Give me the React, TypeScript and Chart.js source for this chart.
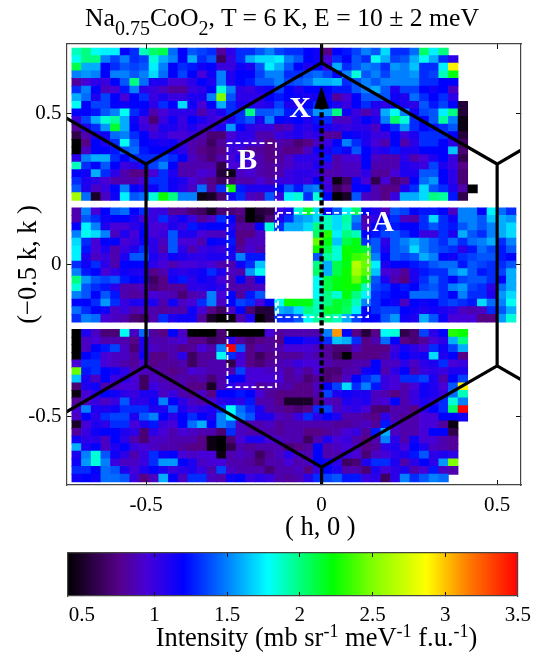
import React, { useEffect, useRef } from "react";
import { Chart, registerables } from "chart.js";

Chart.register(...registerables);

const hGrid = [-0.6975,-0.67,-0.6425,-0.615,-0.5875,-0.56,-0.5325,-0.505,-0.4775,-0.45,-0.4225,-0.395,-0.3675,-0.34,-0.3125,-0.285,-0.2575,-0.23,-0.2025,-0.175,-0.1475,-0.12,-0.0925,-0.065,-0.0375,-0.01,0.0175,0.045,0.0725,0.1,0.1275,0.155,0.1825,0.21,0.2375,0.265,0.2925,0.32,0.3475,0.375,0.4025,0.43,0.4575,0.485,0.5125,0.54];
const kGrid = [0.7028,0.6777,0.6526,0.6275,0.6024,0.5773,0.5522,0.5271,0.502,0.4769,0.4518,0.4267,0.4016,0.3765,0.3514,0.3263,0.3012,0.2761,0.251,0.2259,0.2008,0.1757,0.1506,0.1255,0.1004,0.0753,0.0502,0.0251,0,-0.0251,-0.0502,-0.0753,-0.1004,-0.1255,-0.1506,-0.1757,-0.2008,-0.2259,-0.251,-0.2761,-0.3012,-0.3263,-0.3514,-0.3765,-0.4016,-0.4267,-0.4518,-0.4769,-0.502,-0.5271,-0.5522,-0.5773,-0.6024,-0.6275,-0.6526,-0.6777,-0.7028];
const n = null;

const upperBand = [
[1.9,2.0,1.8,1.75,1.75,1.2,1.3,1.9,2.05,2.1,1.45,1.2,1.4,1.35,1.3,.8,1.05,1.3,1.3,1.4,1.5,1.35,1.3,1.3,1.2,1.15,.75,1.2,1.25,1.35,1.5,1.4,1.7,1.3,1.3,1.45,2.05,1.75,2.0],
[1.8,2.0,2.0,1.5,1.35,1.5,1.3,1.35,1.85,1.6,1.5,1.2,1.6,1.3,1.4,.65,1.0,1.3,1.6,1.7,1.7,1.75,1.5,1.4,1.2,1.15,.95,1.3,1.2,1.4,1.3,1.8,1.6,1.35,1.4,1.6,1.8,1.6,1.3,1.05],
[2.1,1.6,1.6,1.2,1.3,1.4,1.35,1.4,1.75,1.5,1.2,1.3,1.25,1.15,1.2,1.0,1.0,1.15,1.1,1.4,1.75,1.6,1.4,1.2,1.1,1.2,1.0,1.6,1.3,1.4,1.5,1.45,1.3,1.55,1.5,1.65,1.3,1.3,1.75,2.9],
[1.5,1.55,1.5,1.2,1.5,1.5,1.4,1.5,1.7,1.45,1.2,1.35,1.2,.95,1.15,1.5,1.1,1.2,1.2,1.35,1.5,1.5,1.3,1.3,1.4,1.45,1.35,1.2,1.5,1.85,1.4,1.5,1.35,1.5,1.5,1.55,1.3,1.35,1.9,2.2],
[.8,.95,1.05,1.0,1.2,1.4,2.0,1.45,1.1,1.1,.95,.95,1.05,1.2,1.1,1.5,1.1,1.2,1.25,1.4,1.4,1.5,1.35,1.4,1.45,1.6,1.6,1.65,1.3,1.4,1.5,1.4,1.5,1.5,1.5,1.5,1.3,1.3,1.2,1.2],
[1.3,1.5,1.2,.9,.95,1.25,1.5,1.05,1.0,.9,.8,.8,1.0,1.05,1.2,1.85,1.5,1.05,1.0,1.1,1.15,1.35,1.2,1.1,1.2,1.2,1.2,1.25,1.25,1.4,1.5,1.6,1.4,1.1,1.35,1.35,1.2,1.15,1.2,.9],
[1.6,1.45,1.1,1.35,1.2,.95,1.2,1.3,1.0,1.1,1.0,1.0,1.1,1.1,1.5,2.5,1.4,1.05,1.05,1.05,1.2,1.25,1.2,1.15,1.1,1.15,1.15,.8,.95,1.2,1.4,1.4,1.4,1.15,1.1,1.45,1.3,1.2,1.3,1.05],
[1.8,1.2,1.35,1.35,1.2,1.15,1.2,1.2,1.05,1.3,1.2,1.7,1.15,.95,1.2,1.6,1.3,1.1,1.1,1.05,1.1,1.35,1.1,1.05,1.2,1.3,1.2,1.1,1.0,1.2,1.3,1.1,1.05,1.2,1.1,1.05,1.4,1.25,1.35,1.2,.55],
[1.2,1.2,1.25,1.4,1.5,1.8,1.3,1.15,.85,.95,1.05,1.05,1.05,.85,1.0,1.1,1.3,1.3,2.0,1.4,1.4,1.45,1.25,1.25,1.3,1.55,1.55,2.0,1.15,1.0,.85,1.0,1.6,1.8,1.5,1.15,1.35,1.4,1.75,2.0,.55],
[1.0,1.35,1.6,1.85,1.95,1.6,1.15,.95,.7,1.0,1.15,1.0,1.2,1.1,1.0,.95,1.1,1.3,1.4,1.1,1.5,1.2,1.15,1.2,1.1,1.25,1.3,.9,.9,1.05,1.2,1.1,1.5,2.05,1.85,1.3,1.2,1.4,1.95,1.5,.45],
[.8,1.1,1.3,1.55,2.15,1.6,1.2,1.0,.9,1.1,1.1,1.0,1.1,1.0,1.0,1.1,1.55,1.2,1.05,1.0,1.0,.85,.9,1.1,1.05,1.15,1.1,1.05,1.0,1.05,1.05,.9,1.2,1.3,1.55,1.3,1.2,1.25,1.3,1.4,.45],
[.6,.85,1.1,1.15,1.45,1.5,1.3,1.2,1.0,1.05,.95,.95,1.0,.85,.7,.7,.95,1.05,1.05,.85,.85,1.0,1.05,1.1,1.0,1.05,.8,.8,1.2,1.15,1.1,1.0,1.0,1.2,1.0,1.1,1.3,1.3,1.3,1.2,.55],
[.4,.75,1.2,1.1,1.3,1.8,1.4,1.2,1.15,1.1,1.15,1.0,.85,.8,.65,.8,1.0,1.05,1.0,.9,.75,.85,.8,.7,.75,.9,1.0,1.2,1.5,1.3,1.1,.95,.85,1.2,.85,1.05,1.3,1.3,1.2,1.05,.65],
[.4,.9,1.2,1.2,1.25,1.4,1.45,1.25,1.2,1.2,1.15,1.05,.85,.75,.7,.75,1.0,.95,.8,.8,.75,.8,.75,.75,.9,1.15,1.1,1.25,1.15,1.4,1.2,1.05,1.1,1.25,1.1,1.1,1.2,1.2,1.2,1.65,.7],
[1.05,1.5,1.6,1.6,1.3,1.2,1.3,1.3,1.3,1.35,1.3,1.2,.9,.8,.7,.85,.95,1.1,1.0,.85,.75,.8,.9,1.05,1.05,1.05,1.25,.85,.95,.95,1.2,.9,.85,.85,1.05,.85,.95,1.1,1.2,1.0,.6],
[1.9,1.3,1.2,1.4,1.2,1.0,1.05,1.25,1.35,1.5,1.2,.85,.85,.85,.85,.6,.95,.95,.95,.85,.8,.85,.9,1.0,1.0,1.1,1.0,.85,.9,.9,1.2,.85,.85,.85,1.1,1.05,1.0,1.35,1.1,1.0,.75],
[1.2,1.15,1.6,1.3,1.05,.85,.75,.75,.95,1.3,1.1,.85,.85,.95,.9,.55,.45,.9,.95,.85,.8,.85,1.0,1.05,1.05,1.0,.85,.85,.9,.9,1.05,.8,.8,.95,1.1,1.1,1.4,1.4,1.2,1.05,.7],
[1.3,1.1,1.05,.95,.85,.85,.85,.95,1.3,1.3,1.15,1.1,.95,.85,.75,.65,.7,.85,.85,.95,.85,1.0,1.0,1.05,1.0,1.2,.95,.45,.65,1.15,.95,.6,.95,.7,.8,1.2,1.45,1.55,1.2,1.05,.7],
[1.4,1.1,.9,1.0,1.2,1.5,1.2,1.1,1.15,1.3,1.15,1.05,.9,1.45,.8,1.3,2.25,1.25,1.1,1.1,1.1,1.2,1.4,1.25,1.45,1.5,1.0,.65,.75,1.2,1.2,.85,.75,.75,1.1,1.3,1.7,1.4,1.3,1.1,.85,.4],
[2.6,1.45,.5,.9,1.15,1.75,1.4,1.45,1.85,2.25,2.0,1.5,1.5,.45,.5,.7,1.15,1.3,.9,.85,1.4,1.0,1.75,1.85,1.3,1.85,1.2,.4,.5,1.4,.9,.85,.75,1.0,1.6,1.6,1.7,2.0,1.95,1.25,.6],
];

const middleBand = [
[.85,1.5,.95,1.2,1.4,1.45,1.2,1.3,1.0,1.0,.8,.8,.7,.65,.5,.7,.7,.75,.4,.55,.6,1.0,1.1,1.85,2.15,1.7,1.2,1.4,1.75,2.05,1.2,1.1,.9,1.4,1.35,1.2,1.25,1.25,1.2,.9,1.5,1.5,1.2,1.75,1.45,1.3],
[.85,1.4,1.3,1.15,1.2,1.2,1.1,.95,1.0,1.3,1.05,1.15,1.0,.8,.9,1.3,1.2,.7,.4,.5,.7,1.1,1.3,1.55,1.6,1.7,1.9,1.7,1.95,1.5,.85,1.05,1.2,1.3,.9,.85,1.3,1.7,1.3,1.15,1.5,1.5,1.4,1.65,1.6,1.55],
[1.2,1.75,1.5,1.1,.95,.95,1.05,1.15,.95,.95,1.1,1.0,1.25,1.15,1.2,1.2,1.1,.8,.8,1.2,1.85,1.3,1.6,1.6,1.7,2.0,1.9,1.7,1.9,1.4,.9,1.2,1.3,1.25,1.2,1.2,1.3,1.4,1.3,1.25,1.4,1.5,1.4,1.5,1.6,1.7],
[1.5,1.8,1.7,1.5,.9,1.1,.95,1.2,.95,1.0,1.4,1.1,1.1,.95,.9,.9,1.15,.75,.75,.9,n,n,n,n,n,2.05,2.3,1.75,2.0,1.9,1.2,1.25,1.35,1.4,1.3,1.2,1.0,1.0,1.3,1.1,1.6,1.4,1.3,1.5,1.6,1.7],
[1.7,1.3,.95,1.2,1.2,.95,1.0,1.15,1.05,.9,1.4,.95,.95,.85,1.2,1.15,1.25,.75,.9,.9,n,n,n,n,n,2.45,2.2,1.65,2.1,2.2,1.3,1.4,1.05,1.4,1.5,1.6,1.5,1.4,1.3,1.45,1.3,1.45,1.5,1.6,1.3,1.5],
[1.75,1.25,.95,1.1,.85,1.0,1.1,1.3,1.05,.85,1.4,1.05,.85,1.0,1.05,1.0,1.15,.8,.95,.85,n,n,n,n,n,2.25,2.1,1.85,2.25,2.2,2.15,1.4,1.1,1.4,1.45,1.7,1.5,1.4,1.35,1.3,1.05,1.25,1.45,1.35,1.25,1.4],
[1.75,1.1,.9,1.0,.85,1.1,1.4,1.4,1.1,1.0,1.15,1.1,1.05,1.05,1.1,1.1,1.1,1.5,1.25,1.25,n,n,n,n,n,1.4,1.95,1.85,2.25,2.35,2.4,1.5,1.2,1.4,1.35,1.4,1.6,1.5,1.2,1.15,1.3,1.35,1.4,1.4,1.25,1.2],
[1.3,1.15,1.3,1.05,.85,1.2,1.2,1.2,1.05,.95,.85,.95,.95,1.0,.95,.85,.85,1.15,1.3,1.65,n,n,n,n,n,2.0,1.6,2.1,2.2,2.65,2.45,1.75,1.1,1.2,1.2,1.25,1.3,1.4,1.45,1.45,1.25,1.4,1.35,1.3,1.3,1.4],
[1.5,1.25,1.2,.95,1.05,1.15,1.1,1.1,.75,.85,1.1,1.05,1.1,1.15,1.3,1.1,.9,.85,1.55,1.8,n,n,n,n,n,2.05,1.6,2.1,2.25,2.6,2.4,1.65,.95,.9,.8,1.1,1.25,1.3,1.3,1.5,1.6,1.4,1.25,1.3,1.35,1.6],
[2.0,1.55,1.4,1.35,1.4,1.25,1.2,1.15,.65,.75,1.15,1.25,1.05,1.15,1.1,.95,.85,1.2,.85,1.2,n,n,n,n,n,1.8,2.1,2.2,2.25,2.45,2.2,1.4,1.1,.85,.75,1.1,1.3,1.45,1.3,1.2,1.35,1.4,1.4,1.3,1.2,1.6],
[1.85,1.4,1.3,1.25,1.05,.85,.85,.9,.7,.75,.8,.8,1.05,1.05,1.1,1.05,.85,.85,.85,.9,n,n,n,n,n,1.8,2.1,2.2,2.25,2.2,1.9,1.35,1.3,1.2,1.25,1.2,1.35,1.4,1.3,1.5,1.55,1.35,1.3,1.05,1.45,1.6],
[1.5,1.4,1.2,1.4,1.25,.85,.8,.85,.95,.9,.85,.7,.85,.9,1.5,.95,1.2,.8,1.25,1.4,n,n,n,n,n,1.8,2.0,1.85,2.2,2.0,1.75,1.3,1.25,1.2,1.2,1.45,1.45,1.45,1.3,1.2,1.5,1.3,1.3,1.1,1.55,1.7],
[1.2,1.2,1.3,1.55,1.3,1.0,1.1,1.1,1.1,.85,1.15,.9,.95,1.3,1.5,.9,1.2,1.35,1.3,.95,1.2,1.8,2.25,2.2,2.2,1.9,2.0,2.15,2.1,1.9,1.5,1.3,1.2,1.15,.9,1.2,1.15,1.2,1.3,1.35,1.3,1.25,1.7,1.45,1.5,1.8],
[1.45,1.3,1.2,1.15,.9,1.0,.85,.9,.85,.8,.85,.85,1.15,.95,.75,.65,.9,1.2,.7,.55,.55,1.6,1.55,1.7,2.0,1.9,2.15,2.15,2.05,1.75,1.2,1.3,1.35,1.35,1.2,1.15,1.1,1.15,1.1,1.05,.9,.85,.9,1.3,1.4,1.6],
[1.3,1.5,1.45,.95,.9,.85,.7,.65,.85,1.3,1.1,1.15,1.15,.8,.5,.4,.45,.85,1.1,.4,.55,1.3,1.3,1.4,1.8,1.95,2.0,1.9,1.6,1.35,1.2,1.2,1.4,1.55,1.15,1.1,1.6,1.4,1.15,.95,.95,.95,.75,.75,1.55,1.85],
];

const lowerBand = [
[.4,1.1,.9,.7,.7,1.8,.9,1.45,.8,.75,1.2,.9,.4,.4,.4,.7,.4,.4,.4,.4,.95,.8,.85,.85,.85,.85,1.5,3.1,1.2,.75,.55,.75,1.8,1.85,.6,.7,1.35,1.05,1.2,2.3,2.25],
[.4,.9,.95,.85,.85,.85,.75,1.1,.85,.85,.9,.95,.75,.75,.65,.7,1.05,.8,.7,.75,.8,.75,1.2,1.2,1.1,1.1,1.3,1.65,1.6,1.3,.75,.85,1.45,1.2,.75,.7,.8,.95,1.05,1.6,2.0],
[.4,.9,1.2,1.25,1.35,.9,.7,1.1,.9,.85,.85,.75,.8,.95,.85,1.5,3.5,1.4,.75,.85,.8,.85,.95,.95,.95,.9,.8,.7,.7,.9,.75,.75,.75,1.0,1.15,1.05,.95,1.3,1.15,1.35,1.6],
[.4,1.2,1.25,.95,.9,.9,.8,1.15,.75,.75,.85,1.05,.65,.8,.8,1.8,1.3,1.0,.75,.65,.75,.8,.8,.8,.9,.85,.8,.65,.4,.75,.75,.75,.8,1.05,1.2,1.1,1.15,1.7,1.1,1.2,.75],
[.95,1.3,1.3,.95,.9,.85,.8,.95,.75,.8,.8,.85,.65,.8,.85,.85,.6,.95,.75,.7,.8,.85,.9,1.0,.95,.95,.85,.8,.8,.85,.85,1.2,.9,.9,1.05,.9,1.05,1.1,1.3,.95,1.0],
[2.45,1.25,1.3,1.2,1.15,1.05,.85,.9,.85,.8,.75,.8,.95,.9,.85,.85,.85,1.35,.95,.95,.9,.9,.8,.9,.8,.95,.7,.7,.85,.85,1.15,1.2,.85,1.05,1.2,.85,1.0,1.05,1.0,1.1,1.1],
[1.65,1.1,.9,1.2,1.0,1.05,.95,.65,.9,.85,.8,.85,.8,.85,.7,.85,1.2,1.2,.95,.95,.95,.95,.8,.85,.7,.8,.7,.75,.9,1.2,1.3,1.4,1.0,.95,1.3,1.3,1.35,1.1,.85,1.2,1.35],
[.7,1.1,1.15,.85,.9,.95,.95,.65,1.0,.9,.85,.85,.75,.75,.5,.85,1.05,.95,.95,.8,.85,.85,.85,.75,.75,.9,1.2,1.35,1.7,1.3,1.5,1.25,1.0,.95,.85,.95,1.15,1.1,.95,1.4,2.9],
[.45,.95,1.05,1.2,1.15,1.05,1.0,1.1,1.1,.9,1.0,.85,.8,.9,.75,1.2,1.2,1.25,1.2,.95,.8,.75,.75,.75,.75,.85,1.35,1.1,1.15,1.1,1.1,.9,.85,.75,.85,1.0,1.15,1.1,1.0,1.45,1.9],
[.8,.9,1.0,.9,1.0,1.4,1.05,1.05,1.15,1.5,1.2,1.05,.9,.85,.95,1.05,1.1,1.05,1.25,.85,.85,.75,.5,.5,.5,.75,.9,.85,1.1,1.05,1.1,.9,.95,1.2,.85,1.0,1.1,1.05,1.3,1.85,1.5],
[.95,1.5,1.1,1.1,1.15,1.3,1.3,1.3,1.1,1.1,1.4,1.1,1.0,1.05,1.1,1.3,1.8,1.45,1.3,1.1,.85,.8,.75,.7,.75,1.3,1.35,.9,1.0,1.05,.95,.7,.7,.85,.85,.75,1.05,1.2,1.3,2.05,3.5],
[.9,1.2,1.05,1.3,1.35,1.35,1.1,1.4,1.5,1.2,1.05,1.2,1.3,1.2,1.1,1.5,1.75,1.5,1.4,1.1,1.1,.9,.85,1.0,1.3,1.05,1.2,1.1,.85,.85,.8,.75,1.05,.85,.8,.85,.95,.95,1.2,1.2,1.15],
[.5,.95,1.1,1.05,1.3,1.3,.95,1.1,1.25,1.0,.95,1.2,1.45,1.6,1.2,1.5,1.4,.9,.85,.85,.9,.8,.85,.85,.85,.85,.85,.8,.8,.85,.9,.8,1.25,.95,.85,.85,.95,.95,.8,.45],
[.8,1.0,1.15,1.2,1.2,1.1,1.05,.7,1.05,.95,.85,.95,.9,.85,.85,.7,1.3,.9,.85,.85,.85,.8,.85,.85,.75,.75,.8,.85,.95,1.0,.8,1.25,1.6,.9,.85,.85,.95,1.2,1.2,.6],
[1.15,1.05,1.05,.9,1.2,1.05,.85,.7,.9,.9,.85,.85,.85,.75,.45,.4,.7,.95,1.1,1.1,.95,.9,.85,.85,.65,.85,1.1,.95,1.0,.85,.75,.85,1.5,1.05,.85,1.15,.95,.95,.85,.8],
[1.6,1.1,1.2,.9,1.1,1.2,1.0,.95,.9,.85,.85,.8,.75,.75,.45,.4,.6,.85,.8,.85,.85,.85,.7,.75,.8,1.2,.85,.9,.95,.9,.75,.8,1.05,1.1,.95,1.2,1.1,.9,.85,.8],
[1.1,1.5,1.85,1.4,1.15,1.05,.85,1.0,1.3,1.15,1.2,.95,.9,.95,.95,.45,.85,.9,.85,.65,.8,.9,1.05,.9,.85,1.2,.85,.85,1.0,.95,.7,.9,.95,1.05,1.1,1.25,1.4,1.05,1.1,1.05],
[1.15,1.55,1.85,1.5,1.0,.9,.9,1.0,1.3,1.55,1.55,1.2,1.1,.9,.95,.95,.85,.85,.8,.7,.85,.85,.95,.85,.9,1.2,1.15,1.05,.65,.7,1.1,1.3,1.3,1.1,.85,1.05,1.2,1.05,1.55,2.5],
[1.3,1.3,1.2,1.45,1.4,1.1,.95,1.1,1.2,1.1,1.0,1.05,1.1,1.0,.85,1.35,.9,.85,.85,.85,.7,.85,.85,.9,.75,1.0,1.2,1.1,.85,.85,.7,1.1,.95,1.05,1.1,.85,.95,1.25,.9,.85],
[1.15,1.2,1.15,1.45,1.45,1.4,1.0,.75,.9,1.6,1.2,.9,1.3,1.3,.9,.85,1.15,1.2,1.0,1.05,1.0,.85,.8,.85,1.05,1.3,1.35,1.4,1.25,1.25,1.0,1.05,.65,1.05,1.5,1.3,1.4,1.5,1.45],
];

const colormapStops: [number, number, number, number][] = [
  [0.4, 0, 0, 0], [0.75, 85, 0, 135], [0.95, 70, 0, 215], [1.1, 30, 0, 240], [1.2, 0, 0, 255], [1.5, 0, 128, 255],
  [1.78, 0, 255, 255], [2.0, 0, 255, 128], [2.23, 0, 255, 0], [2.5, 128, 255, 0],
  [2.87, 255, 255, 0], [3.15, 255, 128, 0], [3.5, 255, 0, 0],
];

const xTicks = [-0.5, 0, 0.5];
const yTicks = [-0.5, 0, 0.5];
const colorbarTicks = [0.5, 1, 1.5, 2, 2.5, 3, 3.5];
const colorbarRange = [0.4, 3.5];
const xLimits = [-0.7265, 0.568];
const yLimits = [-0.726, 0.729];

const hexOutline = [
  { x: -0.5, y: 0.333 }, { x: 0, y: 0.667 }, { x: 0.5, y: 0.333 }, { x: 0.5, y: -0.333 },
  { x: 0, y: -0.667 }, { x: -0.5, y: -0.333 }, { x: -0.5, y: 0.333 },
];
const hexSpokes = [
  [{ x: -0.5, y: 0.333 }, { x: -0.75, y: 0.5 }],
  [{ x: 0, y: 0.667 }, { x: 0, y: 0.75 }],
  [{ x: 0.5, y: 0.333 }, { x: 0.6, y: 0.4 }],
  [{ x: 0.5, y: -0.333 }, { x: 0.6, y: -0.4 }],
  [{ x: 0, y: -0.667 }, { x: 0, y: -0.75 }],
  [{ x: -0.5, y: -0.333 }, { x: -0.75, y: -0.5 }],
];
const boxA = [
  { x: -0.124, y: 0.172 }, { x: 0.1325, y: 0.172 }, { x: 0.1325, y: -0.172 }, { x: -0.124, y: -0.172 }, { x: -0.124, y: 0.172 },
];
const boxB = [
  { x: -0.268, y: 0.402 }, { x: -0.13, y: 0.402 }, { x: -0.13, y: -0.403 }, { x: -0.268, y: -0.403 }, { x: -0.268, y: 0.402 },
];
const arrowShaft = [{ x: 0, y: -0.49 }, { x: 0, y: 0.52 }];
const arrowHead = [{ x: 0, y: 0.588 }, { x: 0.02, y: 0.516 }, { x: -0.02, y: 0.516 }, { x: 0, y: 0.588 }];
const annotations = [
  { text: "A", x: 0.175, y: 0.139 },
  { text: "B", x: -0.212, y: 0.343 },
  { text: "X", x: -0.061, y: 0.515 },
];

const SERIF = '"Liberation Serif"';

function colorFor(v: number): string {
  const s = colormapStops;
  for (let i = 1; i < s.length; i++) {
    if (v <= s[i][0]) {
      const a = s[i - 1], b = s[i], t = (v - a[0]) / (b[0] - a[0]);
      const c = [1, 2, 3].map((j) => Math.round(a[j] + (b[j] - a[j]) * Math.max(0, t)));
      return `rgb(${c[0]},${c[1]},${c[2]})`;
    }
  }
  return "rgb(255,0,0)";
}

const annotationPlugin = {
  id: "cornerLetters",
  afterDatasetsDraw(chart: any) {
    const { ctx, scales } = chart;
    ctx.save();
    ctx.font = `bold 30px ${SERIF}`;
    ctx.fillStyle = "#fff";
    ctx.textAlign = "center";
    ctx.textBaseline = "middle";
    annotations.forEach((a) => ctx.fillText(a.text, scales.x.getPixelForValue(a.x), scales.y.getPixelForValue(a.y)));
    ctx.restore();
  },
};

const gridOpts = { drawOnChartArea: false, drawTicks: true, tickLength: -5, color: "#111", z: 2, offset: false };
const borderOpts = { display: true, color: "#444", width: 1.2, z: 2 };

function setTicks(values: number[]) {
  return (scale: any) => {
    scale.ticks = values.map((value) => ({ value }));
  };
}
function fixHeight(h: number) {
  return (s: any) => { s.height = h; };
}
function fixWidth(w: number) {
  return (s: any) => { s.width = w; };
}
const fmt = (v: any) => String(v);

export default function App() {
  const mainRef = useRef<HTMLCanvasElement>(null);
  const barRef = useRef<HTMLCanvasElement>(null);

  useEffect(() => {
    const rows: (number | null)[][] = [...upperBand, [], ...middleBand, [], ...lowerBand];
    const halfK = 0.0131;
    const cells: any[] = [];
    const colors: string[] = [];
    rows.forEach((row, r) => {
      row.forEach((v, c) => {
        if (v === null) return;
        cells.push({ x: hGrid[c], y: [kGrid[r] - halfK, kGrid[r] + halfK] });
        colors.push(colorFor(v));
      });
    });

    const lineBase = { type: "line", pointRadius: 0, borderColor: "#000", borderWidth: 3.2, fill: false, tension: 0 };
    const main = new Chart(mainRef.current as any, {
      type: "bar",
      data: {
        datasets: [
          { ...lineBase, data: arrowHead, backgroundColor: "#000", borderWidth: 0.5, fill: "shape", order: 1 },
          { ...lineBase, data: arrowShaft, borderDash: [5.3, 2.7], borderWidth: 4.3, order: 1 },
          { ...lineBase, data: hexOutline, borderJoinStyle: "miter", order: 2 },
          ...hexSpokes.map((d) => ({ ...lineBase, data: d, order: 2 })),
          { ...lineBase, data: boxA, borderColor: "#fff", borderWidth: 1.8, borderDash: [5, 3], order: 3 },
          { ...lineBase, data: boxB, borderColor: "#fff", borderWidth: 1.8, borderDash: [5, 3], order: 3 },
          { type: "bar", data: cells, backgroundColor: colors, borderWidth: 0, barPercentage: 1, categoryPercentage: 1, grouped: false, order: 10 },
        ] as any,
      },
      plugins: [annotationPlugin],
      options: {
        animation: false,
        responsive: false,
        maintainAspectRatio: false,
        events: [],
        layout: { padding: 0 },
        plugins: { legend: { display: false }, tooltip: { enabled: false }, title: { display: false } },
        scales: {
          x: {
            type: "linear", position: "bottom", offset: false, min: xLimits[0], max: xLimits[1],
            afterBuildTicks: setTicks(xTicks), afterFit: fixHeight(59),
            grid: gridOpts, border: borderOpts,
            ticks: { callback: fmt, padding: 13, maxRotation: 0, color: "#000", font: { family: SERIF, size: 21 } },
            title: { display: true, text: "\u00A0\u00A0\u00A0\u00A0\u00A0\u00A0\u00A0\u00A0( h, 0 )", color: "#000", padding: 0, font: { family: SERIF, size: 26.5 } },
          },
          x2: {
            type: "linear", position: "top", offset: false, min: xLimits[0], max: xLimits[1],
            afterBuildTicks: setTicks(xTicks), afterFit: fixHeight(44),
            grid: gridOpts, border: borderOpts, ticks: { display: false },
          },
          y: {
            type: "linear", position: "left", min: yLimits[0], max: yLimits[1],
            afterBuildTicks: setTicks(yTicks), afterFit: fixWidth(66.5),
            grid: gridOpts, border: borderOpts,
            ticks: { callback: fmt, padding: 10, color: "#000", font: { family: SERIF, size: 21 } },
            title: { display: true, text: "(\u22120.5 k, k )", color: "#000", padding: { top: 13, bottom: 0 }, font: { family: SERIF, size: 26.5 } },
          },
          y2: {
            type: "linear", position: "right", min: yLimits[0], max: yLimits[1],
            afterBuildTicks: setTicks(yTicks), afterFit: fixWidth(21),
            grid: gridOpts, border: borderOpts, ticks: { display: false },
          },
        } as any,
      },
    } as any);

    const cbar = new Chart(barRef.current as any, {
      type: "bar",
      data: {
        labels: ["Intensity"],
        datasets: [{
          data: [colorbarRange as any],
          barPercentage: 1,
          categoryPercentage: 1,
          borderWidth: 0,
          backgroundColor: (ctx: any) => {
            const a = ctx.chart.chartArea;
            if (!a) return "#000";
            const g = ctx.chart.ctx.createLinearGradient(a.left, 0, a.right, 0);
            const [lo, hi] = colorbarRange;
            colormapStops.forEach((s) => g.addColorStop((s[0] - lo) / (hi - lo), `rgb(${s[1]},${s[2]},${s[3]})`));
            return g;
          },
        }],
      },
      options: {
        indexAxis: "y",
        animation: false,
        responsive: false,
        maintainAspectRatio: false,
        events: [],
        layout: { padding: 0 },
        plugins: { legend: { display: false }, tooltip: { enabled: false } },
        scales: {
          x: {
            type: "linear", position: "bottom", min: colorbarRange[0], max: colorbarRange[1],
            afterBuildTicks: setTicks(colorbarTicks), afterFit: fixHeight(34),
            grid: { ...gridOpts, tickLength: -4 }, border: borderOpts,
            ticks: { callback: fmt, padding: 11, maxRotation: 0, color: "#000", font: { family: SERIF, size: 21 } },
          },
          x2: {
            type: "linear", position: "top", min: colorbarRange[0], max: colorbarRange[1],
            afterBuildTicks: setTicks(colorbarTicks), afterFit: fixHeight(13),
            grid: { ...gridOpts, tickLength: -4 }, border: borderOpts, ticks: { display: false },
          },
          y: {
            type: "category", position: "left", afterFit: fixWidth(67.3),
            grid: { display: false }, border: borderOpts, ticks: { display: false },
          },
          y2: {
            type: "linear", position: "right", afterFit: fixWidth(19.3),
            grid: { display: false }, border: borderOpts, ticks: { display: false },
          },
        } as any,
      },
    } as any);

    return () => {
      main.destroy();
      cbar.destroy();
    };
  }, []);

  const text: React.CSSProperties = {
    position: "absolute",
    fontFamily: SERIF,
    color: "#000",
    whiteSpace: "nowrap",
    lineHeight: 1,
  };
  const shift = (top: number, size: number): React.CSSProperties => ({ position: "relative", top, fontSize: size });

  return (
    <div style={{ position: "absolute", left: 0, top: 0, width: 542, height: 654, background: "#fff", overflow: "hidden", filter: "blur(0.4px)" }}>
      <canvas ref={mainRef} width={542} height={544} style={{ position: "absolute", left: 0, top: 0 }} />
      <canvas ref={barRef} width={542} height={90} style={{ position: "absolute", left: 0, top: 540 }} />
      <div style={{ ...text, left: 0, width: 564, textAlign: "center", top: 5, fontSize: 25.7 }}>
        Na<span style={shift(9, 20)}>0.75</span>CoO<span style={shift(9, 20)}>2</span>, T = 6 K, E = 10 ± 2 meV
      </div>
      <div style={{ ...text, left: 0, width: 633, textAlign: "center", top: 624, fontSize: 26.5 }}>
        Intensity (mb sr<span style={shift(-9, 18)}>-1</span> meV<span style={shift(-9, 18)}>-1</span> f.u.<span style={shift(-9, 18)}>-1</span>)
      </div>
    </div>
  );
}
